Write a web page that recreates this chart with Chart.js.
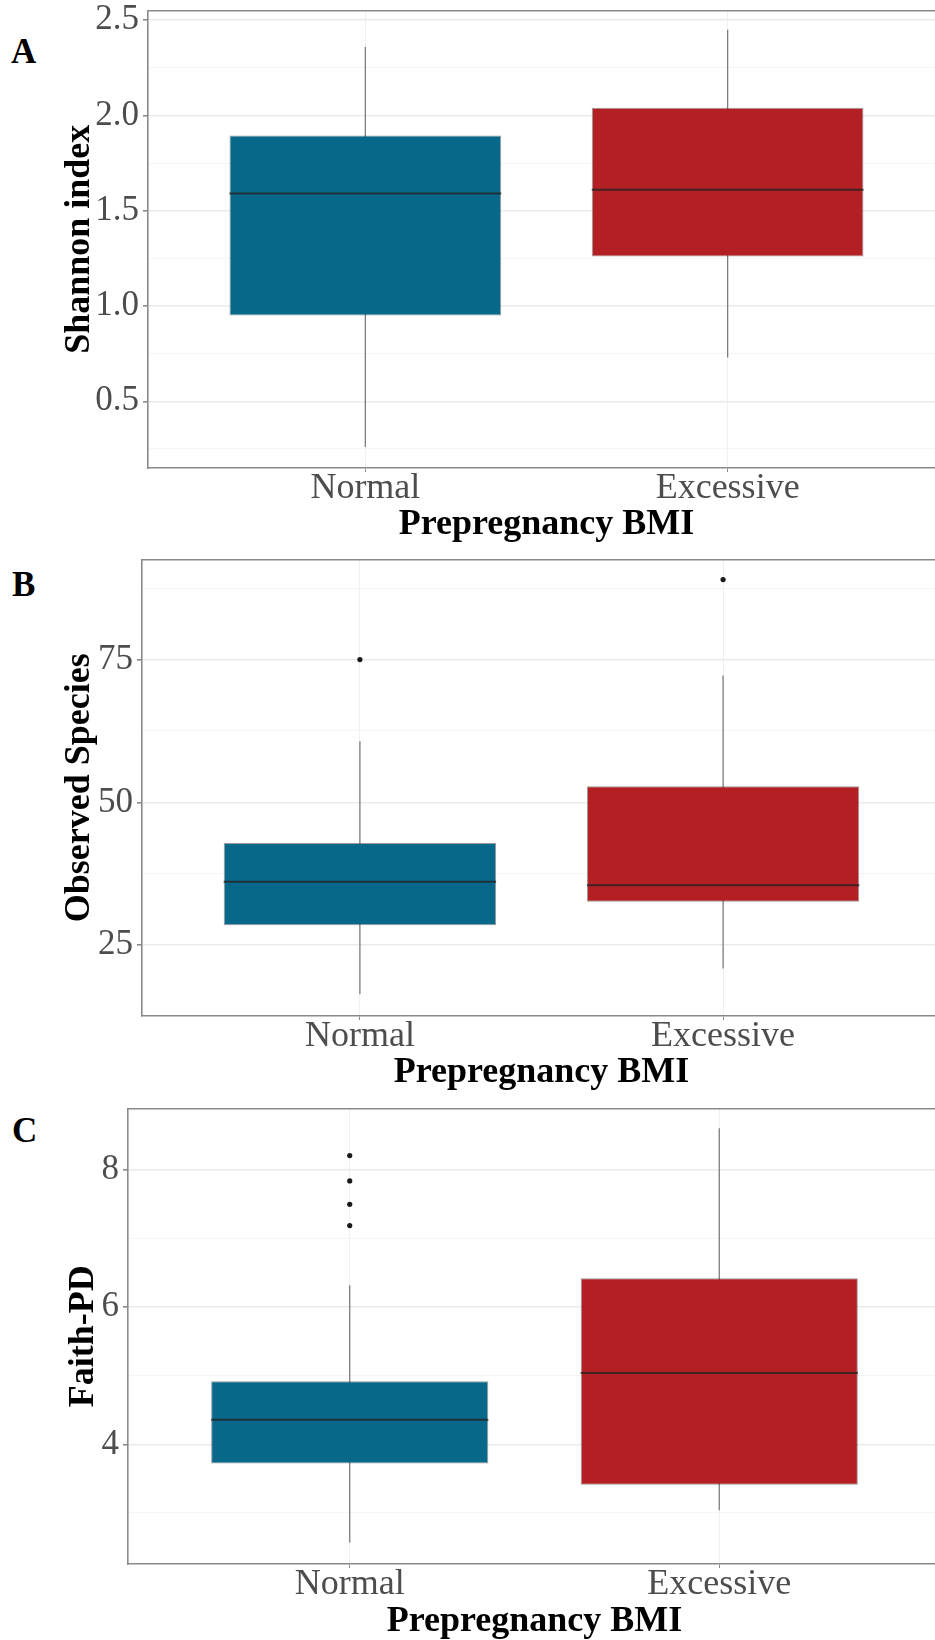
<!DOCTYPE html>
<html>
<head>
<meta charset="utf-8">
<script src="https://cdn.jsdelivr.net/npm/chart.js@4/dist/chart.umd.min.js"></script>
<style>
  body { margin: 0; width: 935px; height: 1640px; overflow: hidden; background: #fff; position: relative; }
  canvas { position: absolute; left: 0; }
  .letter { position: absolute; font: bold 35px 'Liberation Serif', 'Times New Roman', serif; line-height: 35px; color: #000; }
</style>
</head>
<body>
<div class="letter" style="left:11px; top:34px">A</div>
<div class="letter" style="left:12px; top:567px">B</div>
<div class="letter" style="left:12px; top:1113px">C</div>
<canvas id="chartA" width="945" height="545" style="top:0px"></canvas>
<canvas id="chartB" width="945" height="550" style="top:545px"></canvas>
<canvas id="chartC" width="945" height="545" style="top:1095px"></canvas>
<script>
// Groups on the x axis
const groups = ['Normal', 'Excessive'];

// A: Shannon index (boxplot stats per group)
const shannonMin = [0.26, 0.73];
const shannonQ1 = [0.95, 1.26];
const shannonMedian = [1.59, 1.61];
const shannonQ3 = [1.895, 2.04];
const shannonMax = [2.36, 2.45];
const shannonOutliers = [[], []];
const shannonTicks = [0.5, 1.0, 1.5, 2.0, 2.5];
const shannonMinorTicks = [0.25, 0.75, 1.25, 1.75, 2.25];

// B: Observed species
const speciesMin = [16.4, 20.9];
const speciesQ1 = [28.5, 32.6];
const speciesMedian = [36.1, 35.5];
const speciesQ3 = [42.9, 52.8];
const speciesMax = [60.7, 72.2];
const speciesOutliers = [[75], [89]];
const speciesTicks = [25, 50, 75];
const speciesMinorTicks = [37.5, 62.5, 87.5];

// C: Faith-PD
const faithMin = [2.57, 3.04];
const faithQ1 = [3.72, 3.41];
const faithMedian = [4.36, 5.04];
const faithQ3 = [4.92, 6.42];
const faithMax = [6.32, 8.61];
const faithOutliers = [[7.19, 7.50, 7.84, 8.21], []];
const faithTicks = [4, 6, 8];
const faithMinorTicks = [3, 5, 7];

const boxColors = ['#076889', '#b22024'];
const BOX_WIDTH = 0.75; // ggplot default box width (in category units)
const FONT = "'Liberation Serif', 'Times New Roman', serif";

// build the box, whisker, median and outlier datasets for one panel
function boxDatasets(mins, q1s, medians, q3s, maxs, outliers) {
  const sets = [];
  // boxes (floating bars on a linear x axis)
  sets.push({
    type: 'bar',
    data: groups.map((g, i) => ({ x: i + 1, y: [q1s[i], q3s[i]] })),
    backgroundColor: boxColors,
    borderColor: 'rgba(30,30,30,0.45)',
    borderWidth: 1,
    borderSkipped: false,
    barPercentage: BOX_WIDTH,
    categoryPercentage: 1.0,
    order: 2
  });
  // medians
  groups.forEach((g, i) => {
    sets.push({
      type: 'line',
      data: [{ x: i + 1 - BOX_WIDTH / 2, y: medians[i] }, { x: i + 1 + BOX_WIDTH / 2, y: medians[i] }],
      borderColor: 'rgba(35,35,35,0.8)',
      borderWidth: 2,
      pointRadius: 0,
      order: 1
    });
  });
  // whiskers (drawn underneath the boxes)
  groups.forEach((g, i) => {
    sets.push({
      type: 'line',
      data: [{ x: i + 1, y: mins[i] }, { x: i + 1, y: maxs[i] }],
      borderColor: '#7d7d7d',
      borderWidth: 1.3,
      pointRadius: 0,
      order: 3
    });
  });
  // outliers
  const pts = [];
  groups.forEach((g, i) => outliers[i].forEach(v => pts.push({ x: i + 1, y: v })));
  sets.push({
    type: 'scatter',
    data: pts,
    pointRadius: 2.6,
    pointBackgroundColor: '#1a1a1a',
    pointBorderWidth: 0,
    order: 0
  });
  return sets;
}

// keep the plot area exactly where the padding says, labels may overhang
function noOverhang(s) {
  s.paddingTop = 0;
  s.paddingBottom = 0;
  s.paddingLeft = 0;
  s.paddingRight = 0;
}

function makePanel(p) {
  const allTicks = p.ticks.concat(p.minor).sort((a, b) => a - b);
  const isMajor = v => p.ticks.includes(v);
  new Chart(document.getElementById(p.id), {
    type: 'scatter',
    data: { datasets: boxDatasets(p.min, p.q1, p.median, p.q3, p.max, p.outliers) },
    options: {
      responsive: false,
      animation: false,
      layout: { padding: { top: p.padTop, left: 0, right: 0, bottom: 0 } },
      plugins: { legend: { display: false }, tooltip: { enabled: false } },
      scales: {
        x: {
          type: 'linear',
          min: 0.4,
          max: 2.6,
          offset: false,
          afterBuildTicks: s => { s.ticks = groups.map((g, i) => ({ value: i + 1 })); },
          afterFit: s => { s.height = p.xHeight; noOverhang(s); },
          ticks: {
            autoSkip: false,
            padding: -1,
            color: '#4d4d4d',
            font: { family: FONT, size: 36, lineHeight: 1 },
            callback: v => groups[v - 1]
          },
          grid: { offset: false, color: '#f0f0f0', lineWidth: 1, tickColor: '#8a8a8a', tickLength: 4 },
          border: { display: true, color: '#8a8a8a', width: 1.6 },
          title: {
            display: true,
            text: 'Prepregnancy BMI',
            color: '#000',
            font: { family: FONT, size: 36, weight: 'bold', lineHeight: 1 },
            padding: { top: 0, bottom: p.titlePadBottom }
          }
        },
        top: {
          type: 'linear',
          position: 'top',
          min: 0,
          max: 1,
          afterFit: s => { s.height = 0; noOverhang(s); },
          ticks: { display: false },
          grid: { display: false },
          border: { display: true, color: '#8a8a8a', width: 1.6 }
        },
        y: {
          type: 'linear',
          min: p.yMin,
          max: p.yMax,
          afterBuildTicks: s => { s.ticks = allTicks.map(v => ({ value: v })); },
          afterFit: s => { s.width = p.yWidth; noOverhang(s); },
          ticks: {
            autoSkip: false,
            padding: 4,
            color: '#4d4d4d',
            font: { family: FONT, size: 35, lineHeight: 1 },
            callback: v => isMajor(v) ? v.toFixed(p.digits) : ''
          },
          grid: {
            color: c => (c.tick && isMajor(c.tick.value)) ? '#ebebeb' : '#f5f5f5',
            lineWidth: c => (c.tick && isMajor(c.tick.value)) ? 1.6 : 1,
            tickColor: c => (c.tick && isMajor(c.tick.value)) ? '#8a8a8a' : 'rgba(0,0,0,0)',
            tickLength: 5
          },
          border: { display: true, color: '#8a8a8a', width: 1.6 },
          title: {
            display: true,
            text: p.title,
            color: '#000',
            font: { family: FONT, size: 36, weight: 'bold', lineHeight: 1 },
            padding: { top: p.titlePadLeft, bottom: 0 }
          }
        }
      }
    }
  });
}

makePanel({
  id: 'chartA', padTop: 10.5, yWidth: 148, titlePadLeft: 62, xHeight: 77, titlePadBottom: 2,
  yMin: 0.15, yMax: 2.551, digits: 1, title: 'Shannon index',
  min: shannonMin, q1: shannonQ1, median: shannonMedian, q3: shannonQ3, max: shannonMax,
  outliers: shannonOutliers, ticks: shannonTicks, minor: shannonMinorTicks
});

makePanel({
  id: 'chartB', padTop: 14.6, yWidth: 142, titlePadLeft: 62, xHeight: 79, titlePadBottom: 4,
  yMin: 12.6, yMax: 92.5, digits: 0, title: 'Observed Species',
  min: speciesMin, q1: speciesQ1, median: speciesMedian, q3: speciesQ3, max: speciesMax,
  outliers: speciesOutliers, ticks: speciesTicks, minor: speciesMinorTicks
});

makePanel({
  id: 'chartC', padTop: 13.6, yWidth: 128, titlePadLeft: 66, xHeight: 76, titlePadBottom: 0,
  yMin: 2.255, yMax: 8.895, digits: 0, title: 'Faith-PD',
  min: faithMin, q1: faithQ1, median: faithMedian, q3: faithQ3, max: faithMax,
  outliers: faithOutliers, ticks: faithTicks, minor: faithMinorTicks
});
</script>
</body>
</html>
